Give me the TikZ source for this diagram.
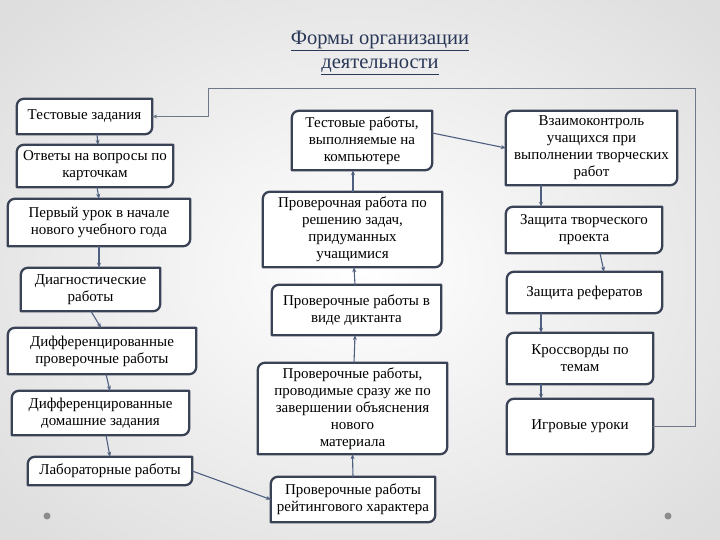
\documentclass[tikz,border=0pt]{standalone}
\usepackage{fontspec}
\setmainfont{Liberation Serif}
\usetikzlibrary{arrows.meta,calc}
\definecolor{boxedge}{HTML}{3A4356}
\definecolor{conncol}{HTML}{4F5F80}
\definecolor{framecol}{HTML}{707788}
\definecolor{titlecol}{HTML}{2A3858}
\pgfdeclarelayer{back}
\pgfdeclarelayer{boxes}
\pgfsetlayers{back,boxes,main}
\newcommand\rbox[1]{\filldraw[boxline] ([yshift=-7pt]#1.north west) arc[start angle=180,end angle=90,radius=7pt] -- (#1.north east) -- ([yshift=7pt]#1.south east) arc[start angle=0,end angle=-90,radius=7pt] -- (#1.south west) -- cycle;}
\tikzset{
  box/.style={inner sep=0pt, align=center, font=\fontsize{15}{17}\selectfont},
  boxline/.style={draw=boxedge, line width=2.3pt, fill=white, line join=round},
  conn/.style={draw=conncol, line width=1.1pt, -{Stealth[length=5pt,width=4pt]}},
  framec/.style={draw=framecol, line width=0.9pt, -{Stealth[length=5pt,width=4pt]}},
  title/.style={align=center, text=titlecol, font=\fontsize{20.5}{24}\selectfont},
}
\begin{document}
\begin{tikzpicture}[x=1pt,y=-1pt]
\useasboundingbox (0,0) rectangle (720,540);
\begin{pgfonlayer}{back}
\shade[inner color=white, outer color=black!13] (-120,-100) rectangle (840,640);
\end{pgfonlayer}
\node[title] (t) at (380,53) {\underline{Формы организации}\\\underline{деятельности}};
% left column
\node[box, minimum width=135pt, minimum height=35pt] (n1) at (84.5,116.5) {Тестовые задания};
\node[box, minimum width=156pt, minimum height=42pt] (n2) at (95,166) {Ответы на вопросы по\\карточкам};
\node[box, minimum width=182pt, minimum height=47pt] (n3) at (99,222.5) {Первый урок в начале\\нового учебного года};
\node[box, minimum width=139pt, minimum height=43pt] (n4) at (90.5,289.5) {Диагностические\\работы};
\node[box, minimum width=188pt, minimum height=46pt] (n5) at (102,351) {Дифференцированные\\проверочные работы};
\node[box, minimum width=177pt, minimum height=44pt] (n6) at (100.5,413) {Дифференцированные\\домашние задания};
\node[box, minimum width=164pt, minimum height=28pt] (n7) at (110,471) {Лабораторные работы};
% middle column
\node[box, minimum width=140pt, minimum height=59pt] (m1) at (362,140.5) {Тестовые работы,\\выполняемые на\\компьютере};
\node[box, minimum width=179pt, minimum height=75pt] (m2) at (352.5,229.5) {Проверочная работа по\\решению задач,\\придуманных\\учащимися};
\node[box, minimum width=169pt, minimum height=50pt] (m3) at (356.5,310) {Проверочные работы в\\виде диктанта};
\node[box, minimum width=189pt, minimum height=91pt] (m4) at (352.5,408.5) {Проверочные работы,\\проводимые сразу же по\\завершении объяснения\\нового\\материала};
\node[box, minimum width=164pt, minimum height=45pt] (m5) at (353,499.5) {Проверочные работы\\рейтингового характера};
% right column
\node[box, minimum width=171pt, minimum height=74pt] (r1) at (591.5,148) {Взаимоконтроль\\учащихся при\\выполнении творческих\\работ};
\node[box, minimum width=156pt, minimum height=46pt] (r2) at (584,230) {Защита творческого\\проекта};
\node[box, minimum width=155pt, minimum height=41pt] (r3) at (584.5,292.5) {Защита рефератов};
\node[box, minimum width=146pt, minimum height=51pt] (r4) at (580,358.5) {Кроссворды по\\темам};
\node[box, minimum width=146pt, minimum height=55pt] (r5) at (580,426.5) {Игровые уроки};
\begin{pgfonlayer}{boxes}
\foreach \b in {n1,n2,n3,n4,n5,n6,n7,m1,m2,m3,m4,m5,r1,r2,r3,r4,r5} {\rbox{\b}}
\end{pgfonlayer}
% connectors
\draw[conn] ([xshift=12.5pt]n1.south) -- ([xshift=3pt]n2.north);
\draw[conn] ([xshift=2pt]n2.south) -- (n3.north);
\draw[conn] (n3.south) -- ([xshift=8.5pt]n4.north);
\draw[conn] ([xshift=0.5pt]n4.south) -- ([xshift=-1pt]n5.north);
\draw[conn] ([xshift=4pt]n5.south) -- ([xshift=9.5pt]n6.north);
\draw[conn] ([xshift=5.5pt]n6.south) -- (n7.north);
\draw[conn] (n7.east) -- (m5.west);
\draw[conn] (m5.north) -- (m4.south);
\draw[conn] ([xshift=1.5pt]m4.north) -- ([xshift=-1.5pt]m3.south);
\draw[conn] ([xshift=-1.5pt]m3.north) -- ([xshift=1.5pt]m2.south);
\draw[conn] ([xshift=0.5pt]m2.north) -- ([xshift=-9pt]m1.south);
\draw[conn] ([yshift=7.5pt]m1.east) -- (r1.west);
\draw[conn] ([xshift=-50.5pt]r1.south) -- ([xshift=-43pt]r2.north);
\draw[conn] ([xshift=16pt]r2.south) -- ([xshift=19.5pt]r3.north);
\draw[conn] ([xshift=-43.5pt]r3.south) -- ([xshift=-39pt]r4.north);
\draw[conn] ([xshift=-39pt]r4.south) -- ([xshift=-39pt]r5.north);
\coordinate (fr) at (695,88);
\coordinate (fl) at (208,116.5);
\draw[framec] (r5.east) -| (fr) -| (fl) -- (n1.east);
% bullets
\fill[black!45] (47,516) circle (3.5pt);
\fill[black!45] (668,516) circle (3.5pt);
\end{tikzpicture}
\end{document}
